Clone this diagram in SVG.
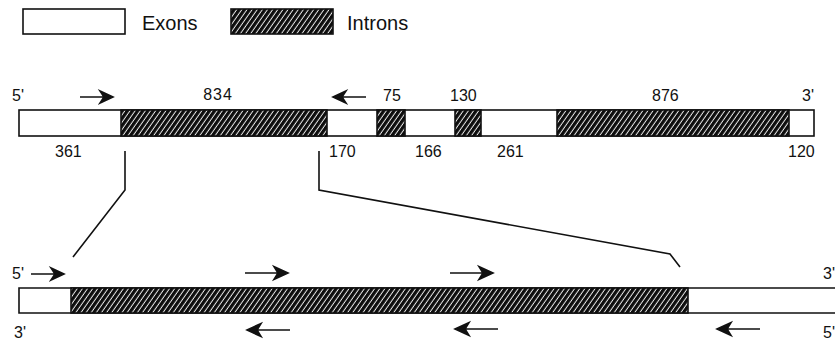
<svg xmlns="http://www.w3.org/2000/svg" width="835" height="344" viewBox="0 0 835 344">
<defs>
<pattern id="hatch" width="4.2" height="4" patternUnits="userSpaceOnUse" patternTransform="rotate(35)">
<rect width="4.2" height="4" fill="#0d0d0d"/>
<line x1="2" y1="0" x2="2" y2="4" stroke="#fff" stroke-width="0.9"/>
</pattern>
<path id="ar" d="M0,0 H24 M33,0 L20,-6 L24,0 L20,6 Z"/>
<path id="al" d="M0,0 H-24 M-33,0 L-20,-6 L-24,0 L-20,6 Z"/>
<path id="arL" d="M0,0 H33 M43,0 L29,-6.5 L33,0 L29,6.5 Z"/>
<path id="alL" d="M0,0 H-33 M-43,0 L-29,-6.5 L-33,0 L-29,6.5 Z"/>
</defs>
<style>
text{font-family:"Liberation Sans",Arial,sans-serif;font-size:16px;fill:#111}
.big{font-size:20px}
.ex{fill:#fff;stroke:#111;stroke-width:1.6}
.in{fill:url(#hatch);stroke:#111;stroke-width:1.6}
.arr{stroke:#111;stroke-width:1.6;fill:#111}
.ln{fill:none;stroke:#111;stroke-width:1.6}
</style>
<g id="legend">
<rect class="ex" x="23" y="9" width="102" height="25"/>
<text class="big" x="142" y="30">Exons</text>
<rect class="in" x="231" y="9" width="102" height="25"/>
<text class="big" x="347" y="30">Introns</text>
</g>
<g id="gene">
<rect class="ex" x="19" y="110" width="795" height="26"/>
<rect class="in" x="121" y="110" width="206" height="26"/>
<rect class="in" x="377" y="110" width="28" height="26"/>
<rect class="in" x="455" y="110" width="26" height="26"/>
<rect class="in" x="557" y="110" width="232" height="26"/>
<text x="12" y="101">5'</text>
<text x="218" y="100" text-anchor="middle" letter-spacing="1">834</text>
<text x="383" y="101">75</text>
<text x="450" y="101">130</text>
<text x="652" y="101">876</text>
<text x="802" y="101">3'</text>
<text x="55" y="157">361</text>
<text x="329" y="157">170</text>
<text x="415" y="157">166</text>
<text x="497" y="157">261</text>
<text x="788" y="157">120</text>
<use href="#ar" class="arr" x="80" y="97"/>
<use href="#al" class="arr" x="366" y="97"/>
</g>
<g id="expanded">
<path class="ex" d="M836,288 H19 V313 H836"/>
<rect class="in" x="71" y="288" width="617" height="25"/>
<text x="12" y="279">5'</text>
<text x="823" y="279">3'</text>
<text x="14" y="338">3'</text>
<text x="823" y="338">5'</text>
<use href="#ar" class="arr" x="31" y="274"/>
<use href="#arL" class="arr" x="245" y="273"/>
<use href="#arL" class="arr" x="450" y="273"/>
<use href="#alL" class="arr" x="290" y="330"/>
<use href="#alL" class="arr" x="498" y="329"/>
<use href="#alL" class="arr" x="760" y="329"/>
</g>
<g id="connectors">
<path class="ln" d="M125,151 V190 L73,257"/>
<path class="ln" d="M319,151 V190 L670,254 L680,267"/>
</g>
</svg>
